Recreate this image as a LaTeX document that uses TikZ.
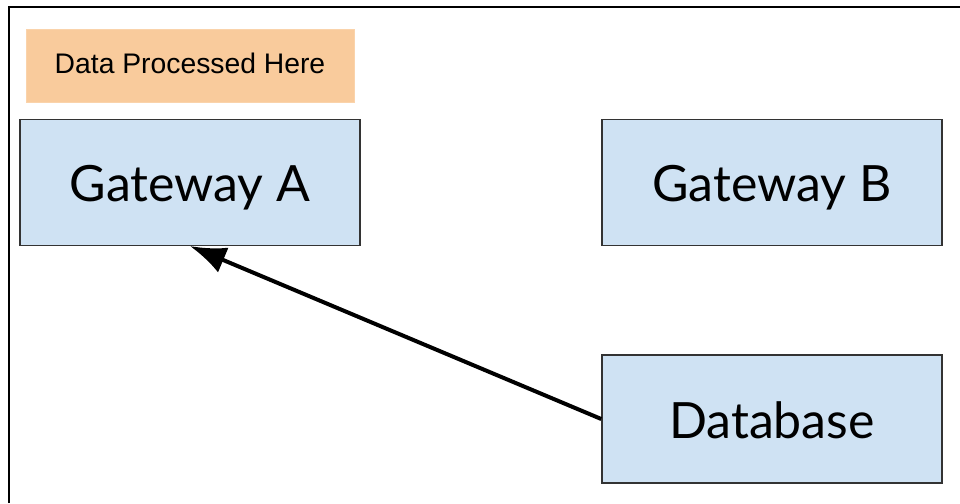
\documentclass[tikz,border=0pt]{standalone}
\usepackage{fontspec}
\setmainfont{Lato}
\newfontfamily\arialfont{Liberation Sans}
\usetikzlibrary{arrows.meta}
\definecolor{boxblue}{HTML}{CFE2F3}
\definecolor{boxorange}{HTML}{F9CB9C}
\definecolor{edgegray}{HTML}{333333}
\tikzset{
  bluebox/.style={draw=edgegray, line width=1.5pt, fill=boxblue, inner sep=0pt,
    minimum width=340pt, minimum height=126pt, text height=39.5pt, text depth=0.7pt,
    font=\fontsize{50}{54}\selectfont},
  notebox/.style={draw=boxorange!85!white, line width=0.6pt, fill=boxorange, inner sep=0pt,
    minimum width=328pt, minimum height=73pt, text height=20pt, text depth=3pt,
    font=\arialfont\fontsize{28.3}{30}\selectfont},
  conn/.style={line width=4pt, -{Latex[length=36pt,width=27pt]}}
}
\begin{document}
\begin{tikzpicture}[x=1pt,y=-1pt]
\useasboundingbox (0,0) rectangle (960,503);
\fill[white] (0,0) rectangle (960,503);
\coordinate (fbl) at (8.5,503);
\coordinate (ftl) at (8.5,7);
\coordinate (ftr) at (960,7);
\draw[line width=2pt] (fbl) -- (ftl) -- (ftr);
\node[notebox] (note) at (190,65.5) {Data Processed Here};
\node[bluebox] (ga) at (190,182.3) {Gateway A};
\node[bluebox] (gb) at (772,182.3) {Gateway B};
\node[bluebox, minimum height=128pt] (db) at (772,419) {Database};
\draw[conn] (db.west) -- (ga.south);
\end{tikzpicture}
\end{document}
